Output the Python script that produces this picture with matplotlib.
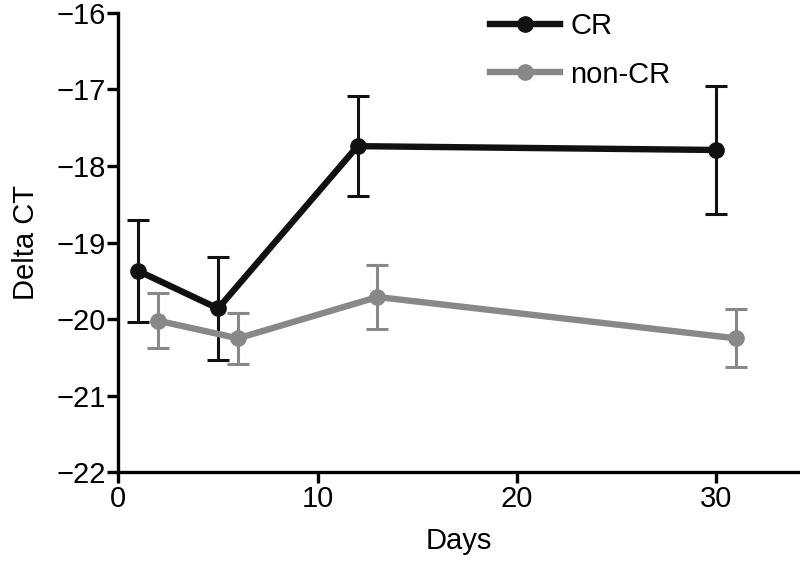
import matplotlib
matplotlib.use("Agg")
import matplotlib.pyplot as plt

plt.rcParams['font.family'] = ['Liberation Sans Narrow', 'Liberation Sans', 'DejaVu Sans']

cr_days = [1, 5, 12, 30]
cr_mean = [-19.37, -19.86, -17.74, -17.79]
cr_err = [0.67, 0.67, 0.65, 0.84]

noncr_days = [2, 6, 13, 31]
noncr_mean = [-20.02, -20.25, -19.71, -20.25]
noncr_err = [0.36, 0.33, 0.42, 0.38]

fig = plt.figure(figsize=(8, 5.61), dpi=100)
ax = fig.add_axes([0.148, 0.158, 0.852, 0.819])

ax.errorbar(cr_days, cr_mean, yerr=cr_err, color='#111111', lw=4.6, marker='o',
            ms=11, elinewidth=2.2, capsize=8, capthick=2.2, label='CR')
ax.errorbar(noncr_days, noncr_mean, yerr=noncr_err, color='#888888', lw=4.6, marker='o',
            ms=11, elinewidth=2.2, capsize=8, capthick=2.2, label='non-CR')

ax.set_xlim(0, 34.2)
ax.set_ylim(-22, -16)
ax.set_xticks([0, 10, 20, 30])
ax.set_yticks([-22, -21, -20, -19, -18, -17, -16])
ax.set_yticklabels(['\u221222', '\u221221', '\u221220', '\u221219', '\u221218', '\u221217', '\u221216'])
for s in ['top', 'right']:
    ax.spines[s].set_visible(False)
for s in ['left', 'bottom']:
    ax.spines[s].set_linewidth(2.4)
ax.tick_params(width=2.4, length=8, labelsize=21, pad=1)
ax.set_xlabel('Days', fontsize=21, labelpad=10)
ax.set_ylabel('Delta CT', fontsize=21, labelpad=12)

handles, labels = ax.get_legend_handles_labels()
handles = [h[0] for h in handles]
ax.legend(handles, labels, loc='upper left', bbox_to_anchor=(0.58, 1.025),
          bbox_transform=fig.transFigure, frameon=False, fontsize=21,
          handlelength=2.4, labelspacing=0.7, handletextpad=0.35)

fig.savefig('out.png', dpi=100)
